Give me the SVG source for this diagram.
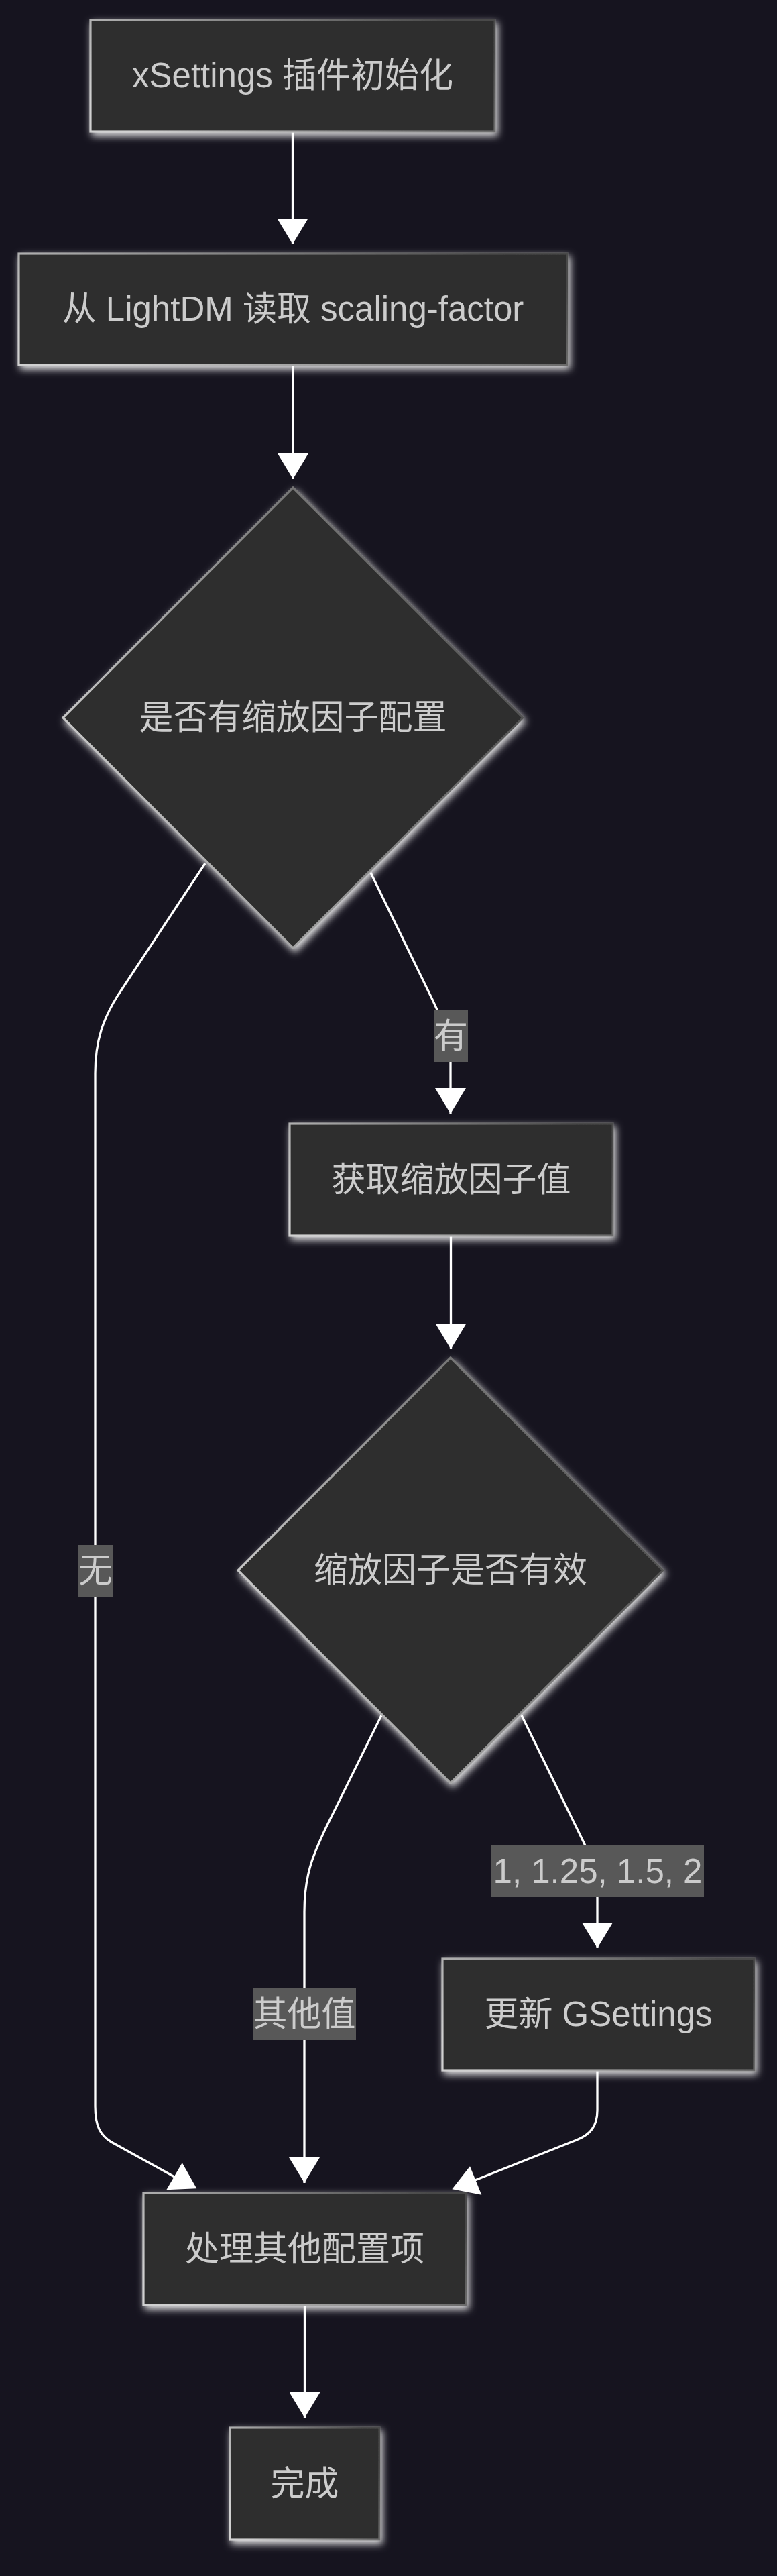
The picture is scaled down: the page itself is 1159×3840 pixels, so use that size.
<svg xmlns="http://www.w3.org/2000/svg" width="1159" height="3840" viewBox="0 0 1159 3840">
<defs>
<style>
.bg{fill:#16141f}
.node{fill:#2d2d2d;stroke:url(#bord);stroke-width:3.2;filter:url(#glow)}
.lbl{font-family:"Liberation Sans","Noto Sans CJK SC",sans-serif;font-size:51px;fill:#cccccc;text-anchor:middle}
.edge{fill:none;stroke:#ffffff;stroke-width:3.3}
.ebg{fill:#585858}
.ah{fill:#ffffff}
</style>
<linearGradient id="bord" x1="0" y1="0.7" x2="1" y2="0.3">
<stop offset="0" stop-color="#d0d0d0"/>
<stop offset="1" stop-color="#4a4a4a"/>
</linearGradient>
<filter id="glow" x="-20%" y="-20%" width="140%" height="150%">
<feGaussianBlur in="SourceAlpha" stdDeviation="6"/>
<feOffset dx="3" dy="5" result="b"/>
<feFlood flood-color="#ffffff" flood-opacity="0.9"/>
<feComposite in2="b" operator="in"/>
<feMerge><feMergeNode/><feMergeNode in="SourceGraphic"/></feMerge>
</filter>
<marker id="arrow" viewBox="0 0 38 46" refX="38" refY="23" markerWidth="38" markerHeight="46" markerUnits="userSpaceOnUse" orient="auto">
<path d="M0,0 L38,23 L0,46 z" fill="#ffffff"/>
</marker>
</defs>
<rect class="bg" x="0" y="0" width="1159" height="3840"/>

<g id="connectors">
<path class="edge" d="M436.5,196 L436.5,364" marker-end="url(#arrow)"/>
<path class="edge" d="M437,544 L437,714" marker-end="url(#arrow)"/>
<path class="edge" d="M553,1301 L645,1490 C660,1522 672,1545 672,1580 L672,1660" marker-end="url(#arrow)"/>
<path class="edge" d="M306,1287 L175,1485 C155,1517 142,1550 142,1600 L142,3140 C142,3170 150,3183 166,3193 L262,3246"/>
<polygon class="ah" points="271.7,3224 248.3,3264.3 293.3,3262.3"/>
<path class="edge" d="M672.5,1842 L672.5,2011" marker-end="url(#arrow)"/>
<path class="edge" d="M569,2557 L485,2727 C470,2760 454,2790 454,2850 L454,3254" marker-end="url(#arrow)"/>
<path class="edge" d="M778,2557 L870,2745 C885,2775 891,2795 891,2830 L891,2904" marker-end="url(#arrow)"/>
<path class="edge" d="M891,3086 L891,3146 C891,3170 880,3182 860,3190 L706,3251"/>
<polygon class="ah" points="701,3229.3 674.3,3263.3 718.3,3271.7"/>
<path class="edge" d="M454.5,3436 L454.5,3604" marker-end="url(#arrow)"/>
<g id="edge-labels">
<rect class="ebg" x="647" y="1506" width="51" height="77"/>
<text class="lbl" x="672.5" y="1562">有</text>
<rect class="ebg" x="117" y="2303" width="51" height="77"/>
<text class="lbl" x="142.5" y="2359">无</text>
<rect class="ebg" x="377" y="2964" width="154" height="77"/>
<text class="lbl" x="454" y="3020">其他值</text>
<rect class="ebg" x="733" y="2751" width="317" height="77"/>
<text class="lbl" x="891.5" y="2807">1, 1.25, 1.5, 2</text>
</g>
</g>

<g id="node-init">
<rect class="node" x="135" y="30" width="603" height="166"/>
<text class="lbl" x="436.5" y="130">xSettings 插件初始化</text>
</g>
<g id="node-read">
<rect class="node" x="28" y="378" width="818" height="166"/>
<text class="lbl" x="437" y="478">从 LightDM 读取 scaling-factor</text>
</g>
<g id="node-has">
<polygon class="node" points="437,727 780,1070 437,1413 94,1070"/>
<text class="lbl" x="437" y="1087">是否有缩放因子配置</text>
</g>
<g id="node-get">
<rect class="node" x="432" y="1675" width="482" height="167"/>
<text class="lbl" x="673" y="1776">获取缩放因子值</text>
</g>
<g id="node-valid">
<polygon class="node" points="672,2024 989,2341 672,2658 355,2341"/>
<text class="lbl" x="672" y="2358">缩放因子是否有效</text>
</g>
<g id="node-update">
<rect class="node" x="660" y="2920" width="465" height="166"/>
<text class="lbl" x="892.5" y="3020">更新 GSettings</text>
</g>
<g id="node-other">
<rect class="node" x="214" y="3269" width="481" height="167"/>
<text class="lbl" x="454.5" y="3370">处理其他配置项</text>
</g>
<g id="node-done">
<rect class="node" x="343" y="3619" width="223" height="167"/>
<text class="lbl" x="454.5" y="3720">完成</text>
</g>
</svg>
